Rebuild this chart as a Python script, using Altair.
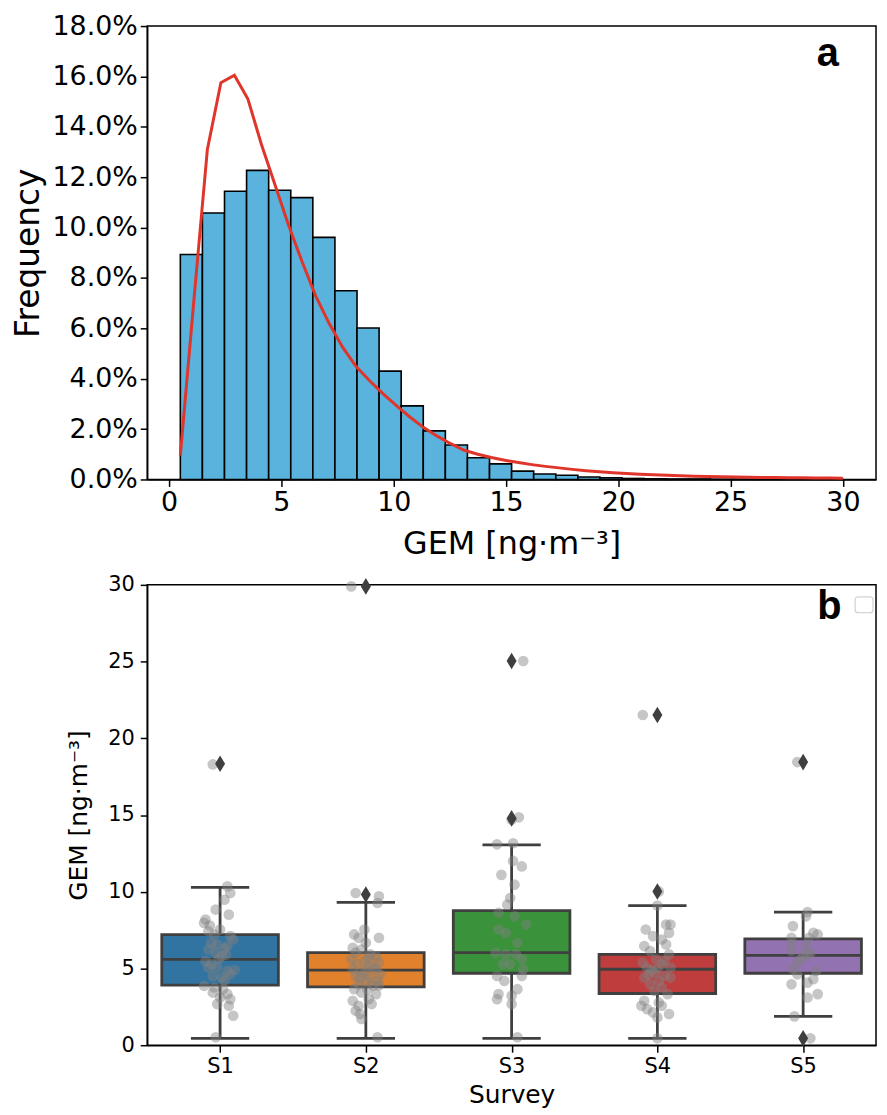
import altair as alt
import pandas as pd

FONT = "DejaVu Sans"

# ---------------- Panel a: histogram + fitted curve ----------------
bin_edges = [0.5, 1.483, 2.467, 3.45, 4.433, 5.417, 6.4, 7.383, 8.367, 9.35,
             10.333, 11.317, 12.3, 13.283, 14.267, 15.25, 16.233, 17.217, 18.2,
             19.183, 20.167, 21.15, 22.133, 23.117, 24.1, 25.083, 26.067, 27.05,
             28.033, 29.017, 30.0]
freq_pct = [8.93, 10.58, 11.44, 12.27, 11.48, 11.19, 9.61, 7.49, 6.01, 4.30,
            2.92, 1.93, 1.37, 0.86, 0.62, 0.33, 0.22, 0.17, 0.10, 0.07,
            0.04, 0.03, 0.02, 0.02, 0.01, 0.01, 0.01, 0.0, 0.0, 0.005]

curve_x = [0.5, 1.102, 1.704, 2.306, 2.908, 3.51, 4.112, 4.714, 5.316, 5.918,
           6.52, 7.122, 7.724, 8.326, 8.928, 9.53, 10.132, 10.734, 11.336, 11.938,
           12.54, 13.142, 13.744, 14.346, 14.948, 15.55, 16.152, 16.754, 17.356, 17.958,
           18.56, 19.162, 19.764, 20.366, 20.968, 21.57, 22.172, 22.774, 23.376, 23.978,
           24.58, 25.182, 25.784, 26.386, 26.988, 27.59, 28.192, 28.794, 29.396, 29.998]
curve_y = [0.95, 7.1, 13.1, 15.75, 16.05, 15.1, 13.3, 11.7, 10.1, 8.65,
           7.3, 6.2, 5.25, 4.48, 3.92, 3.4, 2.92, 2.47, 2.06, 1.72,
           1.42, 1.16, 1.0, 0.87, 0.76, 0.67, 0.59, 0.52, 0.46, 0.40,
           0.35, 0.31, 0.27, 0.24, 0.21, 0.19, 0.17, 0.15, 0.13, 0.12,
           0.11, 0.10, 0.09, 0.08, 0.075, 0.07, 0.065, 0.06, 0.055, 0.05]

x_ticks_a = [0, 5, 10, 15, 20, 25, 30]
y_ticks_a = [0, 2, 4, 6, 8, 10, 12, 14, 16, 18]

hist_df = pd.DataFrame({"lo": bin_edges[:-1], "hi": bin_edges[1:], "freq": freq_pct})
curve_df = pd.DataFrame({"gem": curve_x, "pdf": curve_y})

axis_common = dict(labelFont=FONT, titleFont=FONT, labelColor="black", titleColor="black",
                   domainColor="black", tickColor="black", grid=False,
                   titleFontWeight="normal", domainWidth=1.5, tickWidth=1.5, tickSize=7)

xa_scale = alt.Scale(domain=[-0.975, 31.475], nice=False, zero=False)
ya_scale = alt.Scale(domain=[0, 18], nice=False)

x_axis_a = alt.Axis(values=x_ticks_a, title="GEM [ng·m⁻³]", labelFontSize=27,
                    titleFontSize=32, labelPadding=3, titlePadding=13, **axis_common)
y_axis_a = alt.Axis(values=y_ticks_a, title="Frequency", labelFontSize=27,
                    titleFontSize=33, labelPadding=3, titlePadding=7,
                    labelExpr="format(datum.value, '.1f') + '%'", **axis_common)

bars = alt.Chart(hist_df).mark_rect(fill="#59b3dd", stroke="black", strokeWidth=1.6).encode(
    x=alt.X("lo:Q", scale=xa_scale, axis=x_axis_a),
    x2="hi:Q",
    y=alt.Y("freq:Q", scale=ya_scale, axis=y_axis_a),
    y2=alt.datum(0),
)
line = alt.Chart(curve_df).mark_line(color="#e0352b", strokeWidth=3).encode(
    x=alt.X("gem:Q", scale=xa_scale),
    y=alt.Y("pdf:Q", scale=ya_scale),
)
label_a = alt.Chart(pd.DataFrame({"t": ["a"]})).mark_text(
    font="Liberation Sans", fontSize=40, fontWeight="bold", color="black",
    baseline="alphabetic", align="center"
).encode(x=alt.datum(29.33), y=alt.datum(16.4), text="t:N")

panel_a = alt.layer(bars, line, label_a).properties(width=733, height=456)

# ---------------- Panel b: box plots + strip points ----------------
surveys = ["S1", "S2", "S3", "S4", "S5"]
box_colors = ["#3274a1", "#e1812c", "#3a923a", "#c03d3e", "#9372b2"]
q1 = [3.91, 3.80, 4.69, 3.37, 4.69]
median = [5.59, 4.90, 6.03, 4.95, 5.85]
q3 = [7.21, 6.03, 8.77, 5.92, 6.93]
whisk_lo = [0.45, 0.45, 0.45, 0.45, 1.88]
whisk_hi = [10.28, 9.31, 13.05, 9.10, 8.68]

outlier_survey = [0, 1, 1, 2, 2, 3, 3, 4, 4]
outlier_value = [18.34, 9.82, 29.9, 25.04, 14.78, 21.52, 10.02, 18.45, 0.45]

s1_vals = [10.35, 9.92, 9.48, 8.84, 8.51, 8.19, 7.97, 7.54, 7.43, 7.22, 7.11, 6.89, 6.68,
           6.57, 6.46, 6.24, 6.03, 5.81, 5.49, 5.27, 5.06, 5.06, 4.84, 4.62, 4.41, 4.19,
           3.87, 3.76, 3.65, 3.43, 3.33, 3.11, 3.0, 2.68, 2.57, 1.92, 0.52, 18.3,
           6.3, 5.6, 4.9, 7.8, 5.9, 4.5]
s1_jit = [0.05, 0.07, 0.03, -0.03, 0.06, -0.10, -0.11, 0.0, -0.08, -0.04, 0.07, 0.09, -0.06,
          -0.02, 0.05, -0.08, -0.03, 0.01, -0.10, -0.06, -0.08, -0.02, 0.05, 0.07, 0.01, 0.03,
          -0.11, -0.04, 0.02, -0.05, 0.05, 0.0, 0.07, -0.02, 0.06, 0.09, -0.03, -0.05,
          0.03, -0.01, 0.10, -0.07, 0.04, -0.05]
s2_vals = [9.92, 9.7, 9.27, 7.54, 7.22, 7.0, 7.0, 6.68, 6.35, 6.24, 6.03, 5.92, 5.81, 5.6,
           5.49, 5.38, 5.27, 5.16, 4.95, 4.95, 4.73, 4.62, 4.52, 4.41, 4.19, 4.19, 3.98,
           3.87, 3.65, 3.65, 3.43, 3.33, 2.9, 3.0, 2.57, 2.68, 2.25, 2.03, 1.71, 0.52, 29.9,
           5.1, 4.4, 5.7, 4.85, 3.9]
s2_jit = [-0.07, 0.09, 0.08, -0.01, -0.08, -0.05, 0.09, 0.0, -0.09, -0.03, -0.07, 0.03, 0.07,
          -0.10, -0.01, 0.09, -0.06, 0.02, -0.09, 0.07, -0.03, 0.10, -0.07, 0.03, 0.0, 0.08,
          -0.05, 0.05, -0.08, 0.01, -0.03, 0.07, -0.09, 0.02, -0.05, 0.04, -0.07, -0.04,
          -0.03, 0.08, -0.10, 0.05, -0.04, 0.02, 0.0, 0.09]
s3_vals = [13.09, 13.16, 12.01, 11.65, 11.1, 10.46, 9.59, 9.16, 8.62, 8.4, 7.86, 7.54, 7.32,
           6.68, 6.03, 5.92, 5.92, 5.6, 5.27, 5.27, 4.95, 4.52, 4.52, 4.19, 3.65, 3.33, 3.22,
           3.0, 2.68, 0.52, 25.04, 14.85, 14.7]
s3_jit = [-0.10, 0.01, 0.01, 0.07, -0.07, 0.02, -0.01, -0.03, -0.09, 0.02, 0.10, -0.09, -0.04,
          0.04, -0.11, -0.04, 0.03, 0.07, -0.06, -0.01, 0.08, -0.10, 0.07, -0.05, 0.04, -0.09,
          0.0, -0.10, 0.0, 0.04, 0.08, 0.05, 0.0]
s4_vals = [9.1, 10.02, 21.52, 7.86, 7.54, 7.86, 7.11, 7.32, 6.89, 6.46, 6.57, 6.14, 5.92, 5.6,
           5.38, 5.27, 5.06, 5.06, 4.73, 4.52, 4.41, 4.19, 4.41, 3.97, 3.76, 3.54, 3.33, 2.9,
           2.79, 2.57, 2.35, 2.57, 2.14, 2.03, 1.81, 0.45, 5.0, 4.9, 5.5, 4.6]
s4_jit = [0.0, 0.01, -0.10, 0.06, -0.08, 0.09, -0.03, 0.08, 0.03, -0.09, 0.06, -0.05, 0.08,
          -0.01, -0.10, 0.03, -0.07, 0.09, -0.02, 0.05, -0.09, 0.01, 0.09, -0.05, 0.03, -0.02,
          0.07, -0.09, 0.01, -0.11, -0.07, 0.03, -0.03, 0.08, 0.0, 0.0, 0.0, -0.04, 0.05, -0.06]
s5_vals = [8.68, 8.4, 7.76, 7.32, 7.22, 7.0, 7.0, 6.57, 6.46, 6.14, 5.81, 5.38, 4.95, 4.84,
           4.62, 4.3, 3.97, 4.08, 3.33, 3.11, 1.88, 18.45, 0.45, 5.9, 5.6, 6.0]
s5_jit = [0.03, 0.02, -0.07, 0.07, 0.10, -0.08, 0.04, -0.08, 0.02, -0.08, 0.03, -0.04, -0.07,
          0.09, -0.04, 0.07, -0.08, 0.03, 0.10, 0.03, -0.06, -0.04, 0.05, 0.0, -0.02, 0.05]

box_df = pd.DataFrame({"idx": list(range(len(surveys))), "survey": surveys, "color": box_colors,
                       "q1": q1, "med": median, "q3": q3, "lo": whisk_lo, "hi": whisk_hi})
pts_rows = []
for i, (vals, jit) in enumerate([(s1_vals, s1_jit), (s2_vals, s2_jit), (s3_vals, s3_jit),
                                 (s4_vals, s4_jit), (s5_vals, s5_jit)]):
    for v, j in zip(vals, jit):
        pts_rows.append({"idx": i, "value": v, "jit": j})
pts_df = pd.DataFrame(pts_rows)
out_df = pd.DataFrame({"idx": outlier_survey, "value": outlier_value})

label_map = "[" + ",".join("'%s'" % s for s in surveys) + "][datum.value]"
xb_scale = alt.Scale(domain=[-0.5, 4.5], nice=False, zero=False)
yb_scale = alt.Scale(domain=[0, 30], nice=False)
x_axis_b = alt.Axis(values=list(range(len(surveys))), labelExpr=label_map, title="Survey",
                    labelFontSize=21, titleFontSize=25, labelPadding=3, titlePadding=7,
                    **axis_common)
y_axis_b = alt.Axis(values=[0, 5, 10, 15, 20, 25, 30], title="GEM [ng·m⁻³]",
                    labelFontSize=21, titleFontSize=25, labelPadding=6, titlePadding=16,
                    **axis_common)

EDGE = "#3f3f3f"
base_box = alt.Chart(box_df).transform_calculate(
    bl="datum.idx - 0.4", br="datum.idx + 0.4", cl="datum.idx - 0.2", cr="datum.idx + 0.2"
)
whisk_low = base_box.mark_rule(color=EDGE, strokeWidth=2.8).encode(
    x=alt.X("idx:Q", scale=xb_scale, axis=x_axis_b),
    y=alt.Y("lo:Q", scale=yb_scale, axis=y_axis_b), y2="q1:Q")
whisk_high = base_box.mark_rule(color=EDGE, strokeWidth=2.8).encode(
    x=alt.X("idx:Q", scale=xb_scale), y=alt.Y("q3:Q", scale=yb_scale), y2="hi:Q")
cap_low = base_box.mark_rule(color=EDGE, strokeWidth=2.8).encode(
    x=alt.X("cl:Q", scale=xb_scale), x2="cr:Q", y=alt.Y("lo:Q", scale=yb_scale))
cap_high = base_box.mark_rule(color=EDGE, strokeWidth=2.8).encode(
    x=alt.X("cl:Q", scale=xb_scale), x2="cr:Q", y=alt.Y("hi:Q", scale=yb_scale))
boxes = base_box.mark_rect(stroke=EDGE, strokeWidth=2.8).encode(
    x=alt.X("bl:Q", scale=xb_scale), x2="br:Q",
    y=alt.Y("q1:Q", scale=yb_scale), y2="q3:Q",
    fill=alt.Fill("color:N", scale=None))
medians = base_box.mark_rule(color=EDGE, strokeWidth=2.8).encode(
    x=alt.X("bl:Q", scale=xb_scale), x2="br:Q", y=alt.Y("med:Q", scale=yb_scale))

points = alt.Chart(pts_df).transform_calculate(px="datum.idx + datum.jit").mark_circle(
    color="#808080", opacity=0.45, size=115).encode(
    x=alt.X("px:Q", scale=xb_scale), y=alt.Y("value:Q", scale=yb_scale))
outliers = alt.Chart(out_df).mark_point(
    shape="M0,-1L0.6,0L0,1L-0.6,0Z", filled=True, color=EDGE, opacity=1, size=280).encode(
    x=alt.X("idx:Q", scale=xb_scale), y=alt.Y("value:Q", scale=yb_scale))
label_b = alt.Chart(pd.DataFrame({"t": ["b"]})).mark_text(
    font="Liberation Sans", fontSize=40, fontWeight="bold", color="black",
    baseline="alphabetic", align="center"
).encode(x=alt.datum(4.18), y=alt.datum(27.75), text="t:N")
legend_box = alt.Chart(pd.DataFrame({"t": ["legend"]})).mark_rect(
    fill="white", stroke="#d4d4d4", strokeWidth=1.3, cornerRadius=3).encode(
    x=alt.value(712), x2=alt.value(730), y=alt.value(12), y2=alt.value(28))

panel_b = alt.layer(boxes, whisk_low, whisk_high, cap_low, cap_high, medians,
                    points, outliers, label_b, legend_box).properties(width=733, height=463)

chart = alt.vconcat(panel_a, panel_b, spacing=13).properties(
    background="white", padding={"left": 3, "top": 0, "right": 2, "bottom": 0}
).configure_view(stroke="black", strokeWidth=1.5)

chart.save("out.html", embed_options={"renderer": "svg", "actions": False})
